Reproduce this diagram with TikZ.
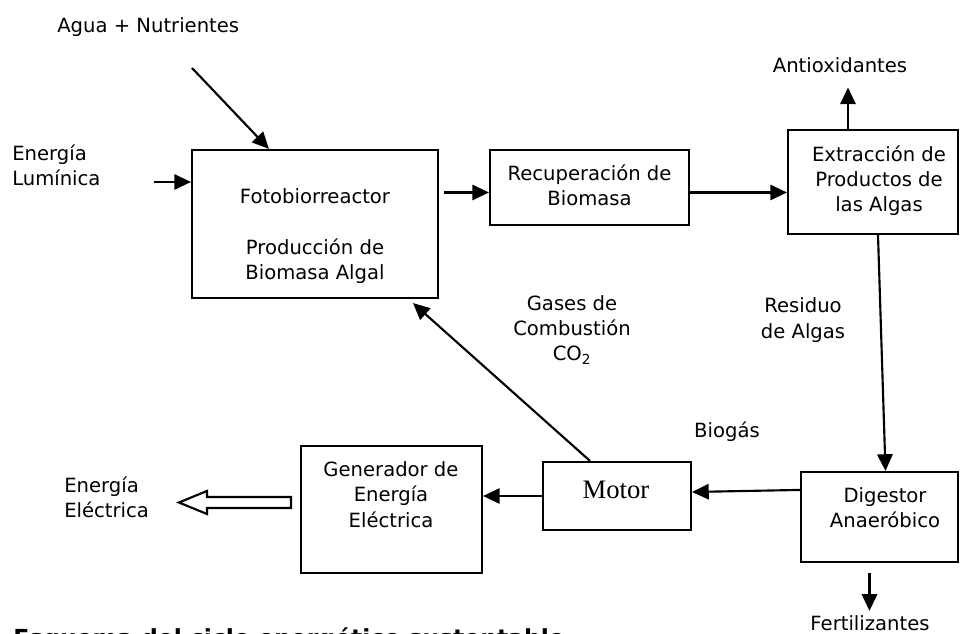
\documentclass[tikz,border=0pt]{standalone}
\usepackage{fontspec}
\setmainfont{DejaVu Sans}
\newfontfamily\motorfont{Liberation Serif}
\usepackage{tikz}
\usetikzlibrary{calc,arrows.meta}
\def\pxu{0.75pt}
\tikzset{
  box/.style={draw=black, line width=1.6pt, inner sep=0pt},
  arr/.style={draw=black, line width=1.6pt, -{Triangle[length=12.5pt,width=11.5pt]}},
  hollow/.style={draw=black, line width=1.6pt, line join=miter},
  lab/.style={text=black, font=\fontsize{14.7}{18.9}\selectfont, inner sep=0pt, align=center},
  labl/.style={lab, align=left},
  caption/.style={text=black, font=\fontsize{17.6}{21}\selectfont\bfseries, inner sep=0pt},
}
\begin{document}
\begin{tikzpicture}[x=0.75pt,y=-0.75pt]
  \useasboundingbox (0,0) rectangle (961,634);
  \clip (0,0) rectangle (961,634);
  % boxes
  \node[box, minimum width=246*\pxu, minimum height=148*\pxu] (foto) at (315,224) {};
  \node[box, minimum width=199*\pxu, minimum height=75*\pxu] (recup) at (589.5,187.5) {};
  \node[box, minimum width=170*\pxu, minimum height=104*\pxu] (extr) at (873,182) {};
  \node[box, minimum width=181*\pxu, minimum height=127*\pxu] (gen) at (391.5,509.5) {};
  \node[box, minimum width=148*\pxu, minimum height=68*\pxu] (motor) at (617,496) {};
  \node[box, minimum width=157*\pxu, minimum height=90*\pxu] (dig) at (879.5,517) {};
  \node[lab] (fotoT) at (315,236) {Fotobiorreactor\\[19.3pt]Producción de\\Biomasa Algal};
  \node[lab] (recupT) at (589.5,185) {Recuperación de\\Biomasa};
  \node[lab] (extrT) at (879,181) {Extracción de\\Productos de\\las Algas};
  \node[lab] (genT) at (391,494.5) {Generador de\\Energía\\Eléctrica};
  \node[font=\motorfont\fontsize{20}{24}\selectfont, inner sep=0pt] (motorT) at (616,490) {Motor};
  \node[lab] (digT) at (885,508) {Digestor\\Anaeróbico};
  % labels
  \node[lab, anchor=base west] (agua) at (57,33) {Agua + Nutrientes};
  \node[labl, anchor=west] (luz) at (12,165) {Energía\\Lumínica};
  \node[lab] (antiox) at (840,65) {Antioxidantes};
  \node[lab] (gases) at (572,330) {Gases de\\Combustión\\CO\textsubscript{2}};
  \node[lab] (resid) at (803,320) {Residuo\\de Algas};
  \node[lab] (biogas) at (727,432) {Biogás};
  \node[labl, anchor=west] (eelec) at (64,497) {Energía\\Eléctrica};
  \node[lab, anchor=base] (fert) at (870,630) {Fertilizantes};
  \node[caption, anchor=base west] (titulo) at (13,646) {Esquema del ciclo energético sustentable};
  % connectors
  \coordinate (aguaIn) at (192,68);
  \coordinate (luzIn) at (154,182);
  \coordinate (extrTop) at ($(extr.north)+(-25,0)$);
  \coordinate (digIn) at ($(dig.north west)+(0,19)$);
  \coordinate (digBot) at ($(dig.south)+(-10,10)$);
  \draw[arr] (aguaIn) -- ($(foto.north west)+(78,0)$);
  \draw[arr] (luzIn) -- (luzIn -| foto.west);
  \draw[arr] ($(foto.east |- recup.east)+(5,5)$) -- ($(recup.west)+(0,5)$);
  \draw[arr] ($(recup.east)+(0,5)$) -- ($(recup.east -| extr.west)+(0,5)$);
  \draw[arr, shorten >=11pt] (extrTop) -- (extrTop |- antiox.south);
  \draw[arr] ($(extr.south)+(5,0)$) -- ($(dig.north)+(6,0)$);
  \draw[arr] (digIn) -- ($(motor.east)+(0,-4)$);
  \draw[arr] (motor.west) -- (motor.west -| gen.east);
  \draw[arr] ($(motor.north)+(-27,0)$) -- ($(foto.south)+(98,4)$);
  \draw[arr, shorten >=3pt] (digBot) -- (digBot |- fert.north);
  \draw[hollow] ($(gen.west)+(-9,-12.5)$) -- ++(-84,0) -- ++(0,-6) -- ++(-28,11.5)
    -- ++(28,11.5) -- ++(0,-6) -- ++(84,0) -- cycle;
\end{tikzpicture}
\end{document}
